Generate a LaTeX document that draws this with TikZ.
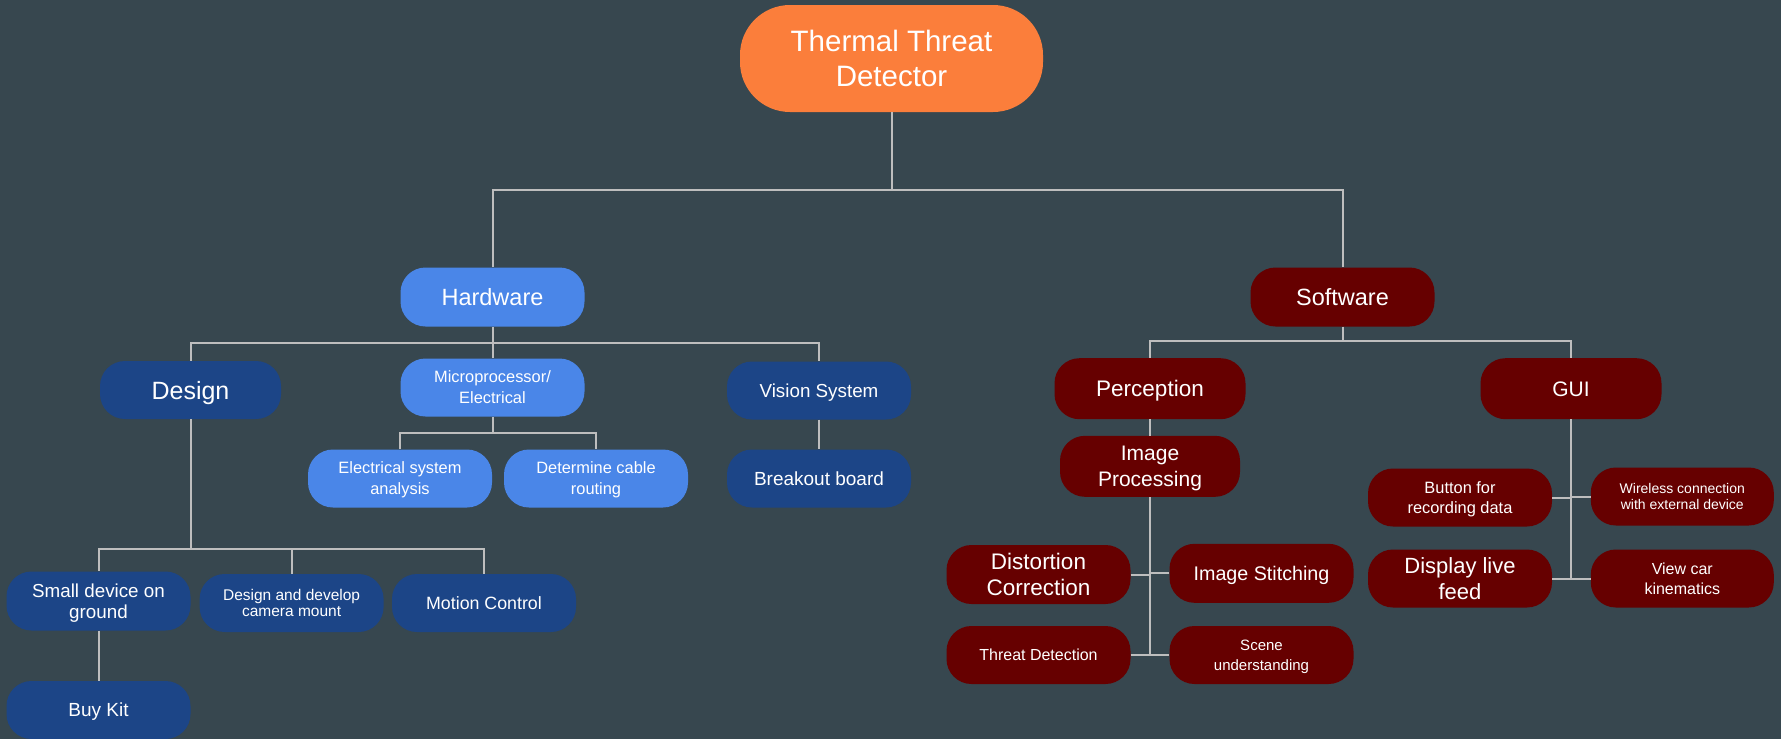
\documentclass[tikz,border=0pt]{standalone}
\usepackage{fontspec}
\setmainfont{Liberation Sans}
\newcommand\fsz[2]{\fontsize{#1}{#2}\selectfont}
\definecolor{bgslate}{HTML}{37474F}
\definecolor{rootorange}{HTML}{FB7E3B}
\definecolor{lightblue}{HTML}{4A86E8}
\definecolor{darkblue}{HTML}{1C4587}
\definecolor{darkred}{HTML}{660000}
\definecolor{wire}{HTML}{BEBEBE}
\begin{document}
\begin{tikzpicture}[x=1pt,y=-1pt,
  box/.style={rectangle, rounded corners=25pt, minimum width=184pt, minimum height=58pt,
    inner sep=0pt, align=center, text=white, text depth=0pt},
  lb/.style={box, fill=lightblue},
  db/.style={box, fill=darkblue},
  dr/.style={box, fill=darkred},
  link/.style={draw=wire, line width=2pt}]
\fill[bgslate] (0,0) rectangle (1781,739);
\useasboundingbox (0,0) rectangle (1781,739);

% bus levels
\coordinate (busA) at (0,190);
\coordinate (busHW) at (0,343);
\coordinate (busMP) at (0,433);
\coordinate (busDes) at (0,549);
\coordinate (busSW) at (0,341);

% root
\node[box, fill=rootorange, minimum width=303pt, minimum height=107pt, rounded corners=50pt,
  font=\fsz{29.5}{35}] (root) at (891.5,58.5) {Thermal Threat\\Detector};

% hardware branch
\node[lb, minimum height=59pt, font=\fsz{23.5}{28}] (hw) at (492.5,297) {Hardware};
\node[db, minimum width=181pt, font=\fsz{25}{30}] (design) at (190.5,390) {Design};
\node[lb, font=\fsz{16.4}{21}] (mp) at (492.5,387.5) {Microprocessor/\\Electrical};
\node[db, font=\fsz{18.8}{22}] (vision) at (819,390.5) {Vision System};
\node[lb, font=\fsz{16.4}{21}] (esa) at (400,478.5) {Electrical system\\analysis};
\node[lb, font=\fsz{16.4}{21}] (dcr) at (596,478.5) {Determine cable\\routing};
\node[db, font=\fsz{19}{22}] (bob) at (819,478.5) {Breakout board};
\node[db, minimum height=59pt, font=\fsz{18.8}{21}] (sdg) at (98.5,601) {Small device on\\ground};
\node[db, font=\fsz{15.5}{16.5}] (ddcm) at (291.6,603) {Design and develop\\camera mount};
\node[db, font=\fsz{17.8}{21}] (mc) at (484,603) {Motion Control};
\node[db, font=\fsz{19}{22}] (buy) at (98.5,710) {Buy Kit};

% software branch
\node[dr, minimum height=59pt, font=\fsz{23.5}{28}] (sw) at (1342.5,297) {Software};
\node[dr, minimum width=191pt, minimum height=61pt, font=\fsz{22.5}{26}] (perc) at (1150,388.7) {Perception};
\node[dr, minimum width=181pt, minimum height=61pt, font=\fsz{21}{25}] (gui) at (1571,388.7) {GUI};
\node[dr, minimum width=180pt, minimum height=61pt, font=\fsz{21}{25.5}] (ip) at (1150,466.3) {Image\\Processing};
\node[dr, minimum height=59pt, font=\fsz{22.5}{26}] (dc) at (1038.5,574.5) {Distortion\\Correction};
\node[dr, minimum height=59pt, font=\fsz{19.7}{23}] (is) at (1261.5,573.3) {Image Stitching};
\node[dr, font=\fsz{16}{19}] (td) at (1038.5,655) {Threat Detection};
\node[dr, font=\fsz{15}{20}] (su) at (1261.5,655) {Scene\\understanding};
\node[dr, font=\fsz{16.4}{20.5}] (bfr) at (1460,497.5) {Button for\\recording data};
\node[dr, minimum width=183pt, font=\fsz{14}{16}] (wc) at (1682.3,496.5) {Wireless connection\\with external device};
\node[dr, font=\fsz{22}{26}] (dlf) at (1460,578.5) {Display live\\feed};
\node[dr, minimum width=183pt, font=\fsz{16}{20}] (vck) at (1682.3,578.5) {View car\\kinematics};

% connectors
\draw[link] (root.south) -- (root.south |- busA) -| (hw.north);
\draw[link] (root.south |- busA) -| (sw.north);

\draw[link] (hw.south) -- (mp.north);
\draw[link] (hw.south |- busHW) -| (design.north);
\draw[link] (hw.south |- busHW) -| (vision.north);

\draw[link] (mp.south) -- (mp.south |- busMP) -| (esa.north);
\draw[link] (mp.south |- busMP) -| (dcr.north);
\draw[link] (vision.south) -- (bob.north);

\draw[link] (design.south) -- (design.south |- busDes) -| (sdg.north);
\draw[link] (design.south |- busDes) -| (ddcm.north);
\draw[link] (design.south |- busDes) -| (mc.north);
\draw[link] (sdg.south) -- (buy.north);

\draw[link] (sw.south) -- (sw.south |- busSW) -| (perc.north);
\draw[link] (sw.south |- busSW) -| (gui.north);
\draw[link] (perc.south) -- (ip.north);

\draw[link] (ip.south) -- (ip.south |- td.east);
\draw[link] (dc.east) -- (dc.east -| ip.south);
\draw[link] (is.west) -- (is.west -| ip.south);
\draw[link] (td.east) -- (su.west);

\draw[link] (gui.south) -- (gui.south |- dlf.east);
\draw[link] (bfr.east) -- (bfr.east -| gui.south);
\draw[link] (wc.west) -- (wc.west -| gui.south);
\draw[link] (dlf.east) -- (vck.west);
\end{tikzpicture}
\end{document}
